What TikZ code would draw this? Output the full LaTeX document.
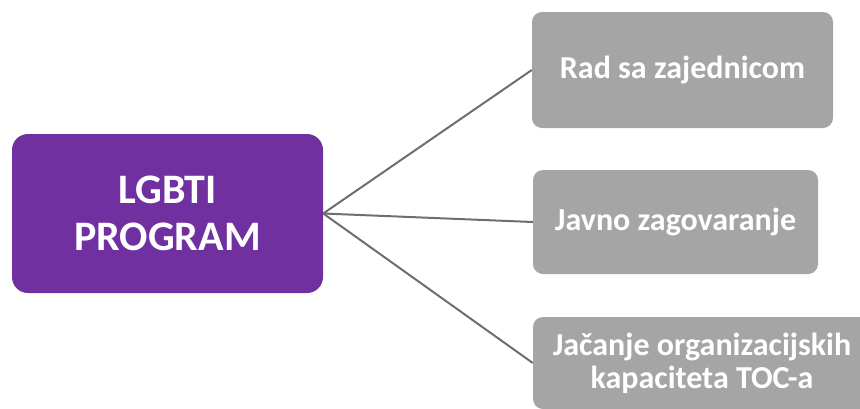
\documentclass[tikz,border=0pt]{standalone}
\usepackage{fontspec}
\setmainfont{Carlito}
\usetikzlibrary{positioning}
\definecolor{lgbtpurple}{HTML}{7030A0}
\definecolor{boxgray}{HTML}{A5A5A5}
\definecolor{linkgray}{HTML}{6E6E6E}
\tikzset{%
  link/.style  = { draw = #1, line width = 2pt },
  tbox/.style  = { fill = #1, text = white, align = center, rounded corners = 10pt, inner sep = 0pt,
    font = \bfseries\fontsize{32}{33}\selectfont },
}
\newcommand{\colorm}{lgbtpurple}
\newcommand{\colorg}{boxgray}
\newcommand{\colorl}{linkgray}

\begin{document}
\begin{tikzpicture}[x=1pt, y=-1pt]
    \clip (0,0) rectangle (860,408);
    % nodes ----------------------------------------------------------------------------------------
    % main node
    \node(prog) [tbox=\colorm, minimum width=311pt, minimum height=159pt, rounded corners=16pt,
      font=\bfseries\fontsize{42}{47}\selectfont] at (167.5,213.5) {LGBTI\\PROGRAM};
    % branch nodes
    \node(rad)     [tbox=\colorg, minimum width=301pt, minimum height=116pt] at (682.5,70)  {Rad sa zajednicom};
    \node(javno)   [tbox=\colorg, minimum width=285pt, minimum height=104pt] at (675.5,222) {Javno zagovaranje};
    \node(jacanje) [tbox=\colorg, minimum width=338pt, minimum height=92pt]  at (702,363)   {Jačanje organizacijskih\\kapaciteta TOC-a};
    % links ----------------------------------------------------------------------------------------
    \draw[link=\colorl] (prog.east) -- (rad.west);
    \draw[link=\colorl] (prog.east) -- (javno.west);
    \draw[link=\colorl] (prog.east) -- (jacanje.west);
\end{tikzpicture}
\end{document}
